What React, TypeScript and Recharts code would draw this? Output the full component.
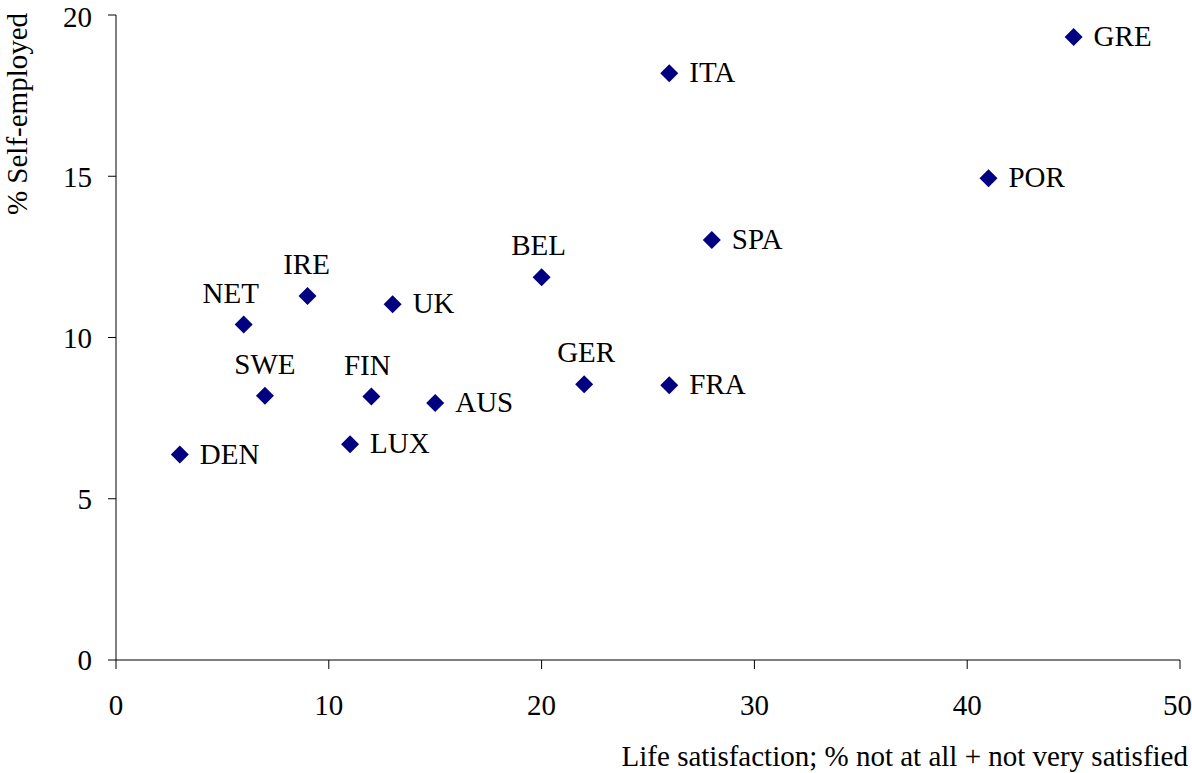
import React from 'react';
import { ScatterChart, Scatter, XAxis, YAxis, Label } from 'recharts';

const countries = ['GRE', 'ITA', 'POR', 'SPA', 'BEL', 'IRE', 'UK', 'NET', 'GER', 'FRA', 'SWE', 'FIN', 'AUS', 'LUX', 'DEN'];
const lifeDissatisfied = [45, 26, 41, 28, 20, 9, 13, 6, 22, 26, 7, 12, 15, 11, 3];
const selfEmployed = [19.32, 18.19, 14.94, 13.02, 11.87, 11.29, 11.03, 10.4, 8.55, 8.52, 8.19, 8.17, 7.97, 6.69, 6.37];

const xTicks = [0, 10, 20, 30, 40, 50];
const yTicks = [0, 5, 10, 15, 20];

// labels drawn above the marker instead of to its right (value = horizontal nudge)
const labelAbove: Record<string, number> = { NET: -13, IRE: -1, BEL: -3, SWE: 0, FIN: -4, GER: 2 };

const data = countries.map((name, i) => ({
  name,
  x: lifeDissatisfied[i],
  y: selfEmployed[i],
}));

const FONT = '"Liberation Serif", "Times New Roman", serif';
const MARKER = '#000080';

function Diamond(props: any) {
  const { cx, cy, payload } = props;
  const r = 9;
  const above = payload.name in labelAbove;
  return (
    <g>
      <polygon
        points={`${cx},${cy - r} ${cx + r},${cy} ${cx},${cy + r} ${cx - r},${cy}`}
        fill={MARKER}
      />
      {above ? (
        <text x={cx + labelAbove[payload.name]} y={cy - 22} textAnchor="middle" fontSize={29} fontFamily={FONT} fill="#000">
          {payload.name}
        </text>
      ) : (
        <text x={cx + 20} y={cy + 9} textAnchor="start" fontSize={29} fontFamily={FONT} fill="#000">
          {payload.name}
        </text>
      )}
    </g>
  );
}

export default function App() {
  const tickStyle = { fill: '#000', fontSize: 29, fontFamily: FONT };
  return (
    <div style={{ position: 'absolute', left: 0, top: 0, background: '#fff' }}>
      <ScatterChart width={1192} height={773} margin={{ top: 15, right: 12, bottom: 0, left: 0 }}>
        <XAxis
          type="number"
          dataKey="x"
          domain={[0, 50]}
          ticks={xTicks}
          height={113}
          tickSize={9}
          tickMargin={25}
          tick={tickStyle}
          stroke="#000"
          axisLine={{ stroke: '#000' }}
          tickLine={{ stroke: '#000' }}
        >
          <Label
            content={({ viewBox }: any) => (
              <text x={1188} y={viewBox.y + 106} textAnchor="end" fontSize={29} fontFamily={FONT} fill="#000">
                Life satisfaction; % not at all + not very satisfied
              </text>
            )}
          />
        </XAxis>
        <YAxis
          type="number"
          dataKey="y"
          domain={[0, 20]}
          ticks={yTicks}
          width={116}
          tickSize={8}
          tickMargin={16}
          tick={tickStyle}
          stroke="#000"
          axisLine={{ stroke: '#000' }}
          tickLine={{ stroke: '#000' }}
        >
          <Label
            content={({ viewBox }: any) => (
              <text
                x={27}
                y={viewBox.y + 99}
                transform={`rotate(-90, 27, ${viewBox.y + 99})`}
                textAnchor="middle"
                fontSize={29}
                fontFamily={FONT}
                fill="#000"
              >
                % Self-employed
              </text>
            )}
          />
        </YAxis>
        <Scatter data={data} shape={Diamond} isAnimationActive={false} />
      </ScatterChart>
    </div>
  );
}
